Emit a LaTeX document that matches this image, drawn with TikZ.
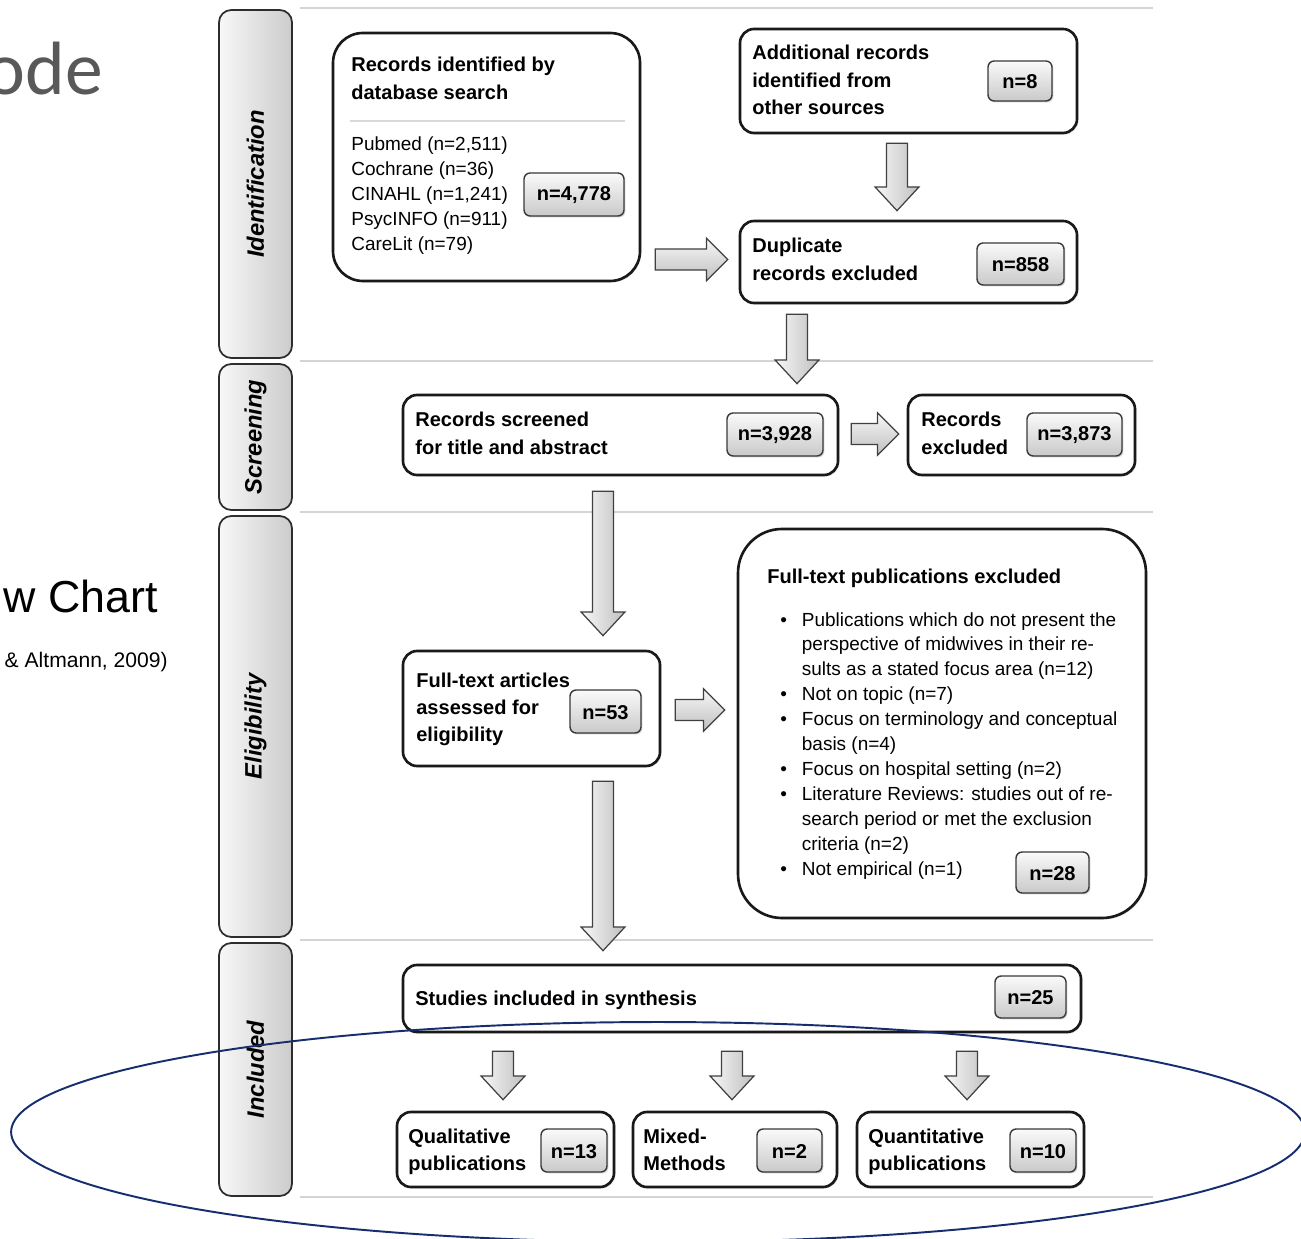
\documentclass[tikz,border=0pt]{standalone}
\usepackage{fontspec}
\setmainfont{Liberation Sans}
\newfontfamily\carl{Carlito}
\usetikzlibrary{fit,calc,shadows}
\definecolor{navy}{RGB}{22,46,112}
\definecolor{titlegray}{RGB}{89,89,89}
\definecolor{sepgray}{RGB}{212,212,212}
\newcommand\bfs{\fontsize{11.4}{15.4}\selectfont\bfseries}
\newcommand\rgs{\fontsize{10.8}{14.2}\selectfont}
\newcommand\ml[1]{\begin{tabular}[t]{@{}l@{}}#1\end{tabular}}
\tikzset{
  box/.style={draw=black!90, line width=1.5pt, fill=white, rounded corners=8pt, inner sep=0pt,
    drop shadow={shadow xshift=0.8pt, shadow yshift=-0.8pt, opacity=0.25}},
  badge/.style={draw=gray!45!black, line width=0.8pt, rounded corners=3.5pt, inner sep=0pt,
    top color=gray!4, bottom color=gray!42,
    drop shadow={shadow xshift=0.8pt, shadow yshift=-0.8pt, opacity=0.35}},
  badgetext/.style={font=\bfs, inner sep=0pt, anchor=center},
  phase/.style={draw=gray!35!black, line width=1pt, rounded corners=7pt, inner sep=0pt,
    left color=gray!6, right color=gray!40},
  phasetext/.style={rotate=90, font=\fontsize{13.5}{16}\selectfont\bfseries\itshape, inner sep=0pt},
  sep/.style={draw=sepgray, line width=1.3pt},
  vblk/.style={draw=gray!50!black, line width=0.7pt, left color=gray!6, right color=gray!50},
  hblk/.style={draw=gray!50!black, line width=0.7pt, top color=gray!6, bottom color=gray!50},
  lbl/.style={anchor=base west, inner sep=0pt, font=\bfs},
  lst/.style={anchor=base west, inner sep=0pt, font=\rgs},
}
\newcommand\vblock[2]{\path[vblk] let \p1=(#1), \p2=(#2) in
  (\x1-6pt,\y1) -- (\x1+6pt,\y1) -- (\x1+6pt,\y2+13.5pt) -- (\x1+12.5pt,\y2+13.5pt) --
  (\x1,\y2) -- (\x1-12.5pt,\y2+13.5pt) -- (\x1-6pt,\y2+13.5pt) -- cycle;}
\newcommand\hblock[2]{\path[hblk] let \p1=(#1), \p2=(#2) in
  (\x1,\y1+6pt) -- (\x2-12pt,\y1+6pt) -- (\x2-12pt,\y1+12pt) -- (\x2,\y1) --
  (\x2-12pt,\y1-12pt) -- (\x2-12pt,\y1-6pt) -- (\x1,\y1-6pt) -- cycle;}
% badge: name, x1, y1, x2, y2, text
\newcommand\badgenode[6]{%
  \node[badge, fit={(#2,#3) (#4,#5)}] (#1) {};
  \node[badgetext] (#1t) at ($(#1.center)+(0,1)$) {\vphantom{n}#6};}
\begin{document}
\begin{tikzpicture}[x=0.02cm, y=-0.02cm]
\useasboundingbox (0,0) rectangle (1301,1239);
\fill[white] (0,0) rectangle (1301,1239);
\clip (0,0) rectangle (1301,1239);

% slide fragments
\node[anchor=base east, inner sep=0pt, font=\carl\fontsize{43}{50}\selectfont, text=titlegray] (t1) at (103,95) {ode};
\node[anchor=base east, inner sep=0pt, font=\fontsize{25.5}{30}\selectfont] (t2) at (158,612) {w Chart};
\node[anchor=base east, inner sep=0pt, font=\fontsize{12}{14}\selectfont] (t3) at (168,667) {\& Altmann, 2009)};

% separator lines
\draw[sep] (300,8) -- (1153,8);
\draw[sep] (300,361) -- (1153,361);
\draw[sep] (300,512) -- (1153,512);
\draw[sep] (300,940) -- (1153,940);
\draw[sep] (300,1197) -- (1153,1197);

% phase bars
\node[phase, fit={(219,10) (292,358)}] (p1) {};
\node[phasetext] (p1t) at (p1) {Identification};
\node[phase, fit={(219,364) (292,510)}] (p2) {};
\node[phasetext] (p2t) at (p2) {Screening};
\node[phase, fit={(219,516) (292,937)}] (p3) {};
\node[phasetext] (p3t) at (p3) {Eligibility};
\node[phase, fit={(219,943) (292,1196)}] (p4) {};
\node[phasetext] (p4t) at (p4) {Included};

% boxes
\node[box, rounded corners=17pt, fit={(333,33) (640,281)}] (db) {};
\node[lbl] (dbt) at (351,72) {\ml{Records identified by\\database search}};
\draw[draw=gray!30, line width=1.2pt] (350,121) -- (625,121);
\node[lst] (dbl) at (351,151) {\ml{Pubmed (n=2,511)\\Cochrane (n=36)\\CINAHL (n=1,241)\\PsycINFO (n=911)\\CareLit (n=79)}};
\badgenode{b1}{524}{173}{624}{216}{n=4,778}

\node[box, fit={(740,29) (1077,133)}] (add) {};
\node[lbl] (addt) at (752,60) {\ml{Additional records\\identified from\\other sources}};
\badgenode{b2}{988}{61}{1052}{101}{n=8}

\node[box, fit={(740,221) (1077,303)}] (dup) {};
\node[lbl] (dupt) at (752,253) {\ml{Duplicate\\records excluded}};
\badgenode{b3}{977}{243}{1064}{285}{n=858}

\node[box, fit={(403,395) (838,475)}] (scr) {};
\node[lbl] (scrt) at (415,427) {\ml{Records screened\\for title and abstract}};
\badgenode{b4}{727}{413}{823}{456}{n=3,928}

\node[box, fit={(908,395) (1135,475)}] (rex) {};
\node[lbl] (rext) at (921,427) {\ml{Records\\excluded}};
\badgenode{b5}{1027}{413}{1122}{456}{n=3,873}

\node[box, fit={(403,651) (660,766)}] (fta) {};
\node[lbl] (ftat) at (416,687) {\ml{Full-text articles\\assessed for\\eligibility}};
\badgenode{b6}{570}{690}{641}{733}{n=53}

\node[box, rounded corners=25pt, fit={(738,529) (1146,918)}] (fte) {};
\node[lbl] (ftet) at (767,583) {Full-text publications excluded};
\node[lst] (ftel) at (780,626) {\begin{tabular}[t]{@{}l@{\hspace{8.5pt}}l@{}}
\textbullet & Publications which do not present the\\
 & perspective of midwives in their re-\\
 & sults as a stated focus area (n=12)\\
\textbullet & Not on topic (n=7)\\
\textbullet & Focus on terminology and conceptual\\
 & basis (n=4)\\
\textbullet & Focus on hospital setting (n=2)\\
\textbullet & Literature Reviews: studies out of re-\\
 & search period or met the exclusion\\
 & criteria (n=2)\\
\textbullet & Not empirical (n=1)
\end{tabular}};
\badgenode{b7}{1016}{852}{1089}{893}{n=28}

\node[box, fit={(403,965) (1081,1032)}] (stu) {};
\node[lbl] (stut) at (415,1005) {Studies included in synthesis};
\badgenode{b8}{995}{976}{1066}{1018}{n=25}

\node[box, fit={(397,1112) (614,1187)}] (q1) {};
\node[lbl] (q1t) at (408,1143) {\ml{Qualitative\\publications}};
\badgenode{b9}{541}{1129}{607}{1172}{n=13}

\node[box, fit={(633,1112) (837,1187)}] (q2) {};
\node[lbl] (q2t) at (643,1143) {\ml{Mixed-\\Methods}};
\badgenode{b10}{757}{1129}{822}{1172}{n=2}

\node[box, fit={(857,1112) (1084,1187)}] (q3) {};
\node[lbl] (q3t) at (868,1143) {\ml{Quantitative\\publications}};
\badgenode{b11}{1010}{1129}{1076}{1172}{n=10}

% block arrow connectors
\coordinate (ya) at (0,259.5);
\coordinate (xb) at (897,0);
\coordinate (xc) at (797,0);
\coordinate (yd) at (0,434);
\coordinate (xe) at (603,0);
\coordinate (yf) at (0,710);
\coordinate (xg1) at (503,0);
\coordinate (xg2) at (732,0);
\coordinate (xg3) at (967,0);

\coordinate (a1s) at ($(db.east |- ya)+(14,0)$);
\coordinate (a1e) at ($(dup.west |- ya)+(-11,0)$);
\hblock{a1s}{a1e}
\coordinate (a2s) at ($(add.south -| xb)+(0,9)$);
\coordinate (a2e) at ($(dup.north -| xb)+(0,-9)$);
\vblock{a2s}{a2e}
\coordinate (a3s) at ($(dup.south -| xc)+(0,10)$);
\coordinate (a3e) at ($(scr.north -| xc)+(0,-10)$);
\vblock{a3s}{a3e}
\coordinate (a4s) at ($(scr.east |- yd)+(12,0)$);
\coordinate (a4e) at ($(rex.west |- yd)+(-8,0)$);
\hblock{a4s}{a4e}
\coordinate (a5s) at ($(scr.south -| xe)+(0,15)$);
\coordinate (a5e) at ($(fta.north -| xe)+(0,-14)$);
\vblock{a5s}{a5e}
\coordinate (a6s) at ($(fta.east |- yf)+(14,0)$);
\coordinate (a6e) at ($(fte.west |- yf)+(-12,0)$);
\hblock{a6s}{a6e}
\coordinate (a7s) at ($(fta.south -| xe)+(0,14)$);
\coordinate (a7e) at ($(stu.north -| xe)+(0,-13)$);
\vblock{a7s}{a7e}
\coordinate (a8s) at ($(stu.south -| xg1)+(0,18)$);
\coordinate (a8e) at ($(q1.north -| xg1)+(0,-11)$);
\vblock{a8s}{a8e}
\coordinate (a9s) at ($(stu.south -| xg2)+(0,18)$);
\coordinate (a9e) at ($(q2.north -| xg2)+(0,-11)$);
\vblock{a9s}{a9e}
\coordinate (a10s) at ($(stu.south -| xg3)+(0,18)$);
\coordinate (a10e) at ($(q3.north -| xg3)+(0,-11)$);
\vblock{a10s}{a10e}

% highlight ellipse
\draw[navy, line width=1.1pt] (658,1132) ellipse [x radius=12.94cm, y radius=2.2cm];
\end{tikzpicture}
\end{document}
